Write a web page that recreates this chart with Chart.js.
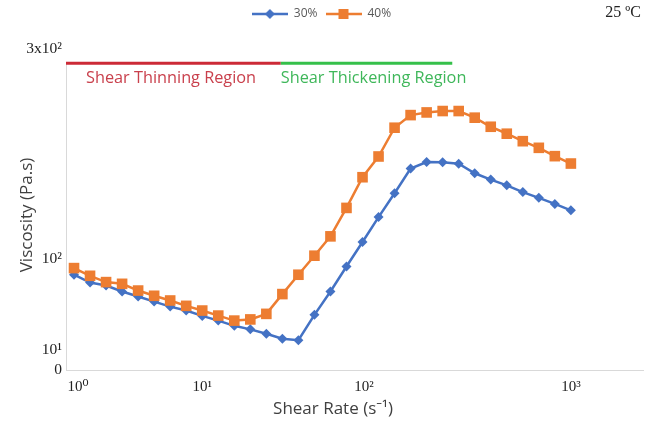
<!DOCTYPE html>
<html>
<head>
<meta charset="utf-8">
<script src="https://cdn.jsdelivr.net/npm/chart.js@4/dist/chart.umd.min.js"></script>
<style>
  html, body { margin: 0; padding: 0; background: #ffffff; }
  #wrap { width: 653px; height: 425px; }
</style>
</head>
<body>
<div id="wrap"><canvas id="chart" width="653" height="425"></canvas></div>
<script>
// Viscosity (Pa.s) at each measured shear-rate step, 32 steps per series
const viscosity30 = [89.1, 81.8, 79.0, 73.4, 68.7, 64.0, 59.3, 55.6, 50.6, 46.2, 41.3, 38.0, 33.9, 29.3, 27.8, 51.6,
                     73.4, 96.8, 119.7, 143.0, 165.3, 188.4, 194.5, 194.3, 192.9, 184.0, 178.1, 172.7, 166.4, 161.0, 155.3, 149.3];
const viscosity40 = [95.3, 88.1, 82.2, 80.6, 74.3, 69.4, 65.0, 60.0, 55.6, 50.9, 46.2, 47.3, 52.5, 71.0, 89.1, 106.9,
                     125.0, 151.6, 180.3, 199.7, 226.6, 238.4, 240.9, 242.2, 242.2, 236.0, 227.5, 221.0, 214.0, 207.8, 200.0, 193.1];
const seriesNames = ['30%', '40%'];

// Shear-rate axis: labelled decades at the step where they fall
const xTickLabels = ['10⁰', '10¹', '10²', '10³'];
const xTickAt = [0.25, 8, 18.1, 31];

// Viscosity axis labels
const yTickLabels = ['0', '10¹', '10²', '3x10²'];
const yTickAt = [0, 19, 104, 300];

const xTitle = 'Shear Rate (s⁻¹)';
const yTitle = 'Viscosity (Pa.s)';

// Flow regimes marked along the top of the plot
const regionNames = ['Shear Thinning Region', 'Shear Thickening Region'];
const regionBounds = [-0.5, 12.9, 23.6];
const regionLevel = 287;
const temperatureLabel = '25 ºC';

const BLUE = '#4472C4';
const ORANGE = '#ED7D31';
const SANS = "'Open Sans', 'Noto Sans', sans-serif";
const SERIF = "'Liberation Serif', 'DejaVu Serif', serif";

// Legend swatch: short line with the series marker in the middle
function swatch(color, marker) {
  const c = document.createElement('canvas');
  c.width = 36; c.height = 12;
  const g = c.getContext('2d');
  g.strokeStyle = color; g.lineWidth = 2.5;
  g.beginPath(); g.moveTo(0, 6); g.lineTo(36, 6); g.stroke();
  g.fillStyle = color;
  if (marker === 'diamond') {
    g.beginPath(); g.moveTo(18, 1); g.lineTo(23, 6); g.lineTo(18, 11); g.lineTo(13, 6); g.closePath(); g.fill();
  } else {
    g.fillRect(13, 1, 10, 10);
  }
  return c;
}
const swatches = [swatch(BLUE, 'diamond'), swatch(ORANGE, 'square')];

const overlay = {
  id: 'overlay',
  beforeDatasetsDraw(chart) {
    const { ctx, scales: { x, y } } = chart;
    ctx.save();
    // value axis line, running up to the regime bar
    ctx.strokeStyle = '#d9d9d9';
    ctx.lineWidth = 1;
    const px = Math.round(x.getPixelForValue(x.min)) + 0.5;
    ctx.beginPath();
    ctx.moveTo(px, y.getPixelForValue(regionLevel));
    ctx.lineTo(px, y.getPixelForValue(0));
    ctx.stroke();
    // axis titles
    ctx.fillStyle = '#404040';
    ctx.font = "17px " + SANS;
    ctx.textAlign = 'center';
    ctx.textBaseline = 'middle';
    ctx.fillText(xTitle, 333, 409);
    ctx.translate(27, 215);
    ctx.rotate(-Math.PI / 2);
    ctx.fillText(yTitle, 0, 0);
    ctx.restore();
  },
  afterDatasetsDraw(chart) {
    const { ctx, scales: { x, y } } = chart;
    const ly = y.getPixelForValue(regionLevel);
    const lineColors = ['#cc2a36', '#35c04a'];
    const textColors = ['#c9404c', '#3fb75a'];
    const textInset = [20, 0];
    ctx.save();
    ctx.lineWidth = 3;
    for (let i = 0; i < regionNames.length; i++) {
      const x0 = x.getPixelForValue(regionBounds[i]);
      const x1 = x.getPixelForValue(regionBounds[i + 1]);
      ctx.strokeStyle = lineColors[i];
      ctx.beginPath(); ctx.moveTo(x0, ly); ctx.lineTo(x1, ly); ctx.stroke();
      ctx.fillStyle = textColors[i];
      ctx.font = "16.3px " + SANS;
      ctx.textAlign = 'left';
      ctx.textBaseline = 'middle';
      ctx.fillText(regionNames[i], x0 + textInset[i], ly + 15);
    }
    ctx.fillStyle = '#222222';
    ctx.font = "16px " + SERIF;
    ctx.textAlign = 'right';
    ctx.textBaseline = 'middle';
    ctx.fillText(temperatureLabel, chart.width - 12, 13);
    ctx.restore();
  }
};

new Chart(document.getElementById('chart'), {
  type: 'line',
  data: {
    labels: viscosity30.map((_, i) => i),
    datasets: [
      {
        label: seriesNames[0],
        data: viscosity30,
        borderColor: BLUE,
        backgroundColor: BLUE,
        borderWidth: 2.5,
        pointStyle: 'rectRot',
        pointRadius: 5,
        pointBorderWidth: 0,
        tension: 0,
        order: 1
      },
      {
        label: seriesNames[1],
        data: viscosity40,
        borderColor: ORANGE,
        backgroundColor: ORANGE,
        borderWidth: 2.5,
        pointStyle: 'rect',
        pointRadius: 7.5,
        pointBorderWidth: 0,
        tension: 0,
        order: 0
      }
    ]
  },
  options: {
    responsive: false,
    animation: false,
    devicePixelRatio: 1,
    layout: { padding: { left: 0, right: 10, top: 0, bottom: 0 } },
    plugins: {
      tooltip: { enabled: false },
      legend: {
        position: 'top',
        labels: {
          usePointStyle: true,
          pointStyleWidth: 36,
          padding: 8,
          color: '#595959',
          font: { family: SANS, size: 12 },
          generateLabels(chart) {
            return chart.data.datasets.map((ds, i) => ({
              text: ds.label,
              pointStyle: swatches[i],
              fillStyle: ds.borderColor,
              strokeStyle: ds.borderColor,
              lineWidth: 0,
              fontColor: '#595959',
              datasetIndex: i,
              hidden: false
            }));
          }
        }
      }
    },
    scales: {
      x: {
        type: 'linear',
        min: -0.5,
        max: 35.5,
        grid: { display: false, drawTicks: false },
        border: { display: true, color: '#d9d9d9', width: 1 },
        afterBuildTicks(scale) { scale.ticks = xTickAt.map(v => ({ value: v })); },
        afterFit(scale) { scale.height = 55; },
        ticks: {
          autoSkip: false,
          maxRotation: 0,
          padding: 8,
          color: '#222222',
          font: { family: SERIF, size: 15 },
          callback: (v, i) => xTickLabels[i]
        }
      },
      y: {
        type: 'linear',
        min: 0,
        max: 318,
        grid: { display: false, drawTicks: false },
        border: { display: false },
        afterBuildTicks(scale) { scale.ticks = yTickAt.map(v => ({ value: v })); },
        afterFit(scale) { scale.width = 66; },
        ticks: {
          autoSkip: false,
          padding: 4,
          color: '#222222',
          font: { family: SERIF, size: 15.5 },
          callback: (v, i) => yTickLabels[i]
        }
      }
    }
  },
  plugins: [overlay]
});
</script>
</body>
</html>
